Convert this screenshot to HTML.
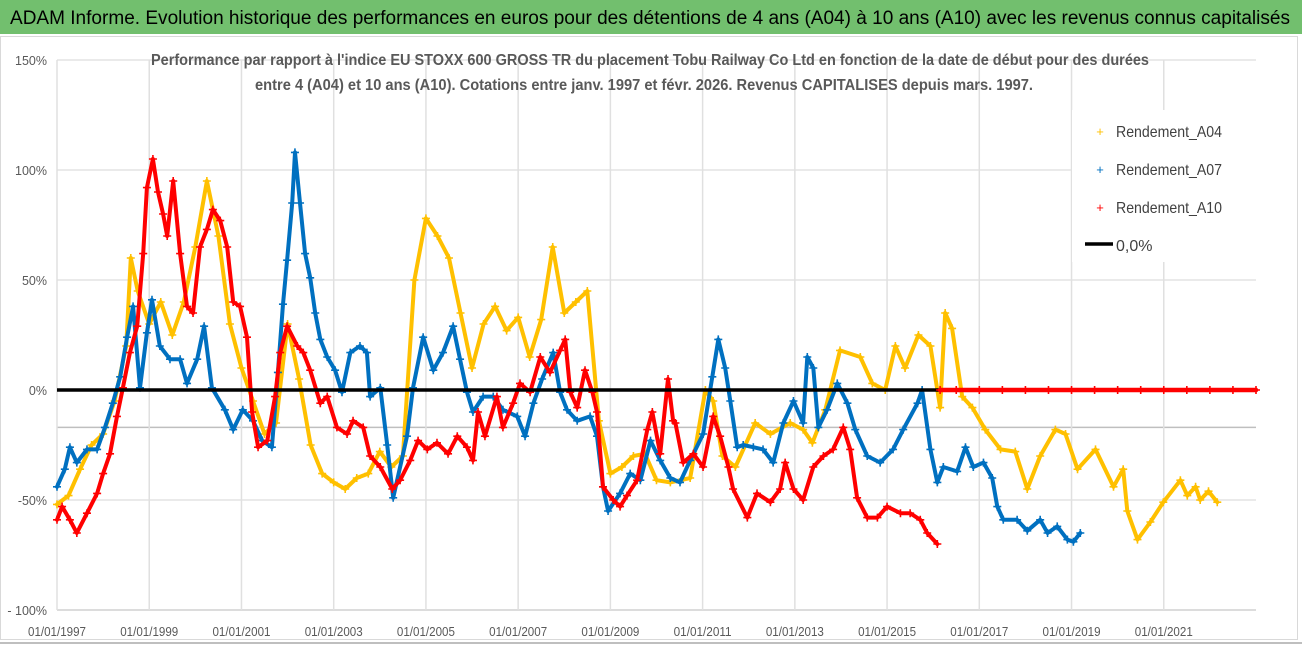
<!DOCTYPE html>
<html><head><meta charset="utf-8"><style>
html,body{margin:0;padding:0;background:#fff;}
svg{display:block;font-family:"Liberation Sans Narrow","Liberation Sans",sans-serif;}
</style></head><body>
<svg id="chart" width="1302" height="647" viewBox="0 0 1302 647">
<rect x="0" y="0" width="1302" height="34" fill="#72bf6e"/>
<text x="10" y="24" font-size="19" fill="#000" textLength="1280" lengthAdjust="spacingAndGlyphs">ADAM Informe. Evolution historique des performances en euros pour des détentions de 4 ans (A04) à 10 ans (A10) avec les revenus connus capitalisés</text>
<rect x="0.5" y="36.5" width="1297" height="603" fill="none" stroke="#d9d9d9"/>
<line x1="0" y1="643" x2="1302" y2="643" stroke="#bfbfbf" stroke-width="2"/>
<g id="grid"></g>
<g id="series"></g>
<g id="axes"></g>
<text x="650" y="65" text-anchor="middle" font-size="15.5" font-weight="bold" fill="#595959" textLength="998" lengthAdjust="spacingAndGlyphs">Performance par rapport à l'indice EU STOXX 600 GROSS TR  du placement Tobu Railway Co Ltd en fonction de la date de début pour des durées</text>
<text x="644" y="90" text-anchor="middle" font-size="15.5" font-weight="bold" fill="#595959" textLength="778" lengthAdjust="spacingAndGlyphs">entre 4 (A04) et 10 ans (A10). Cotations entre janv. 1997 et févr. 2026. Revenus CAPITALISES depuis mars. 1997.</text>
<g>
<rect x="1072" y="110" width="190" height="152" fill="#fff"/>
<g><text x="1100" y="136" font-size="13" fill="#FFC000" text-anchor="middle">+</text><text x="1116" y="137" font-size="16" fill="#404040" textLength="106" lengthAdjust="spacingAndGlyphs">Rendement_A04</text></g>
<g><text x="1100" y="174" font-size="13" fill="#0070C0" text-anchor="middle">+</text><text x="1116" y="175" font-size="16" fill="#404040" textLength="106" lengthAdjust="spacingAndGlyphs">Rendement_A07</text></g>
<g><text x="1100" y="212" font-size="13" fill="#FF0000" text-anchor="middle">+</text><text x="1116" y="213" font-size="16" fill="#404040" textLength="106" lengthAdjust="spacingAndGlyphs">Rendement_A10</text></g>
<g><line x1="1085" y1="244" x2="1113" y2="244" stroke="#000" stroke-width="3.5"/><text x="1116" y="251" font-size="16" fill="#404040">0,0%</text></g>
</g>
</svg>
<script>
// time values: years elapsed since 01/01/1997
const xTickLabels = ["01/01/1997","01/01/1999","01/01/2001","01/01/2003","01/01/2005","01/01/2007","01/01/2009","01/01/2011","01/01/2013","01/01/2015","01/01/2017","01/01/2019","01/01/2021"];
const xTickT = [0,2,4,6,8,10,12,14,16,18,20,22,24];
const yTicks = [150,100,50,0,-50,-100];
const yTickLabels = ["150%","100%","50%","0%","-50%","- 100%"];
const refLineValue = -17;
const zeroLineEndT = 19.15;

const a04T = [0,0.25,0.5,0.75,1,1.25,1.5,1.6,1.75,2,2.25,2.5,2.75,3,3.25,3.5,3.75,4,4.25,4.5,4.75,5,5.25,5.5,5.75,6,6.25,6.5,6.75,7,7.25,7.5,7.75,8,8.25,8.5,8.75,9,9.25,9.5,9.75,10,10.25,10.5,10.75,11,11.25,11.5,11.75,12,12.25,12.5,12.75,13,13.3,13.73,14.06,14.23,14.43,14.71,15.14,15.47,15.9,16.18,16.38,16.66,16.98,17.42,17.68,17.96,18.18,18.39,18.68,18.94,19.15,19.26,19.41,19.63,19.85,20.13,20.46,20.78,21.04,21.32,21.65,21.87,22.13,22.52,22.91,23.12,23.21,23.43,23.71,23.99,24.36,24.51,24.69,24.79,24.97,25.16];
const a04V = [-52,-48,-36,-25,-20,-5,20,60,45,30,40,25,40,65,95,70,30,10,-5,-20,-15,30,5,-25,-38,-42,-45,-40,-38,-28,-35,-30,50,78,70,60,35,10,30,38,27,33,15,32,65,35,40,45,-14,-38,-35,-30,-29,-41,-42,-40,0,-5,-30,-35,-15,-20,-15,-18,-24,-9,18,15,3,0,20,10,25,20,-8,35,28,-3,-8,-18,-27,-28,-45,-30,-18,-20,-36,-27,-44,-36,-55,-68,-60,-51,-41,-48,-44,-50,-46,-51];

const a07T = [0,0.17,0.28,0.43,0.65,0.87,1.04,1.21,1.37,1.52,1.65,1.8,1.95,2.06,2.23,2.45,2.67,2.82,3.04,3.19,3.36,3.64,3.82,4.03,4.25,4.45,4.66,4.79,4.9,4.99,5.1,5.16,5.27,5.38,5.49,5.6,5.71,5.86,6.03,6.18,6.36,6.57,6.72,6.79,7.01,7.16,7.29,7.59,7.72,7.94,8.16,8.37,8.59,8.74,8.89,9.02,9.24,9.46,9.67,9.98,10.15,10.33,10.52,10.76,10.91,11.06,11.28,11.56,11.71,11.84,11.95,12.21,12.43,12.65,12.87,13.08,13.3,13.51,13.73,14.01,14.21,14.34,14.49,14.6,14.75,14.88,15.1,15.31,15.53,15.75,15.97,16.18,16.27,16.4,16.51,16.7,16.92,17.14,17.31,17.57,17.85,18.13,18.35,18.66,18.76,18.94,19.09,19.22,19.52,19.7,19.87,20.09,20.28,20.39,20.52,20.82,21.04,21.32,21.48,21.69,21.91,22.04,22.19];
const a07V = [-44,-36,-26,-33,-27,-27,-17,-6,6,24,38,1,26,41,20,14,14,3,14,29,1,-9,-18,-9,-14,-23,-26,8,39,59,85,108,85,62,51,35,23,15,9,-1,17,20,17,-3,1,-25,-49,-21,1,24,9,17,29,14,-1,-10,-3,-3,-9,-12,-21,-6,5,17,-1,-9,-14,-12,-21,-44,-55,-47,-38,-41,-23,-32,-40,-42,-32,-20,6,23,10,-5,-26,-25,-26,-27,-33,-15,-5,-15,15,10,-17,-9,3,-6,-18,-30,-33,-27,-18,-6,0,-27,-42,-35,-37,-26,-35,-33,-40,-53,-59,-59,-64,-59,-65,-62,-68,-69,-65];

const a10T = [0,0.11,0.28,0.43,0.65,0.87,1,1.15,1.3,1.43,1.58,1.74,1.87,1.95,2.08,2.19,2.3,2.39,2.52,2.67,2.82,2.95,3.1,3.25,3.38,3.54,3.69,3.82,3.97,4.12,4.23,4.36,4.56,4.73,4.84,4.99,5.21,5.34,5.49,5.71,5.86,6.07,6.29,6.42,6.64,6.79,7.01,7.27,7.44,7.66,7.83,8.03,8.24,8.48,8.68,8.89,9.02,9.13,9.28,9.54,9.67,9.89,10.04,10.26,10.48,10.69,10.91,11.02,11.13,11.28,11.45,11.61,11.71,11.84,12.06,12.21,12.36,12.58,12.8,12.91,13.08,13.25,13.36,13.41,13.58,13.8,14.01,14.23,14.38,14.56,14.66,14.97,15.18,15.47,15.68,15.79,15.97,16.18,16.4,16.62,16.83,17.05,17.2,17.35,17.57,17.79,18,18.29,18.5,18.72,18.87,19.09];
const a10V = [-59,-53,-59,-65,-56,-47,-38,-29,-12,1,17,29,62,92,105,90,80,70,95,62,38,35,65,73,82,77,65,40,38,24,-10,-26,-23,-3,17,29,20,17,9,-6,-3,-17,-20,-14,-17,-30,-35,-45,-41,-32,-23,-27,-24,-29,-21,-26,-32,-10,-21,-3,-17,-6,3,-1,15,8,18,23,-1,-8,9,-1,-10,-44,-50,-53,-48,-41,-18,-10,-29,5,-14,-15,-33,-29,-35,-12,-21,-35,-45,-58,-47,-51,-45,-33,-45,-50,-35,-30,-27,-17,-27,-49,-58,-58,-53,-56,-56,-59,-65,-70];
const a10TailT = [19.15,19.5,20,20.5,21,21.5,22,22.5,23,23.5,24,24.5,25,25.5,26];
const a10TailV = [0,0,0,0,0,0,0,0,0,0,0,0,0,0,0];

const NS = "http://www.w3.org/2000/svg";
const X0 = 57, X1 = 1256, T1 = 26;
const Y0 = 390, PX_PER_PCT = 2.2;
function xS(t){ return X0 + t * (X1 - X0) / T1; }
function yS(v){ return Y0 - v * PX_PER_PCT; }
function mk(tag, attrs, parent){ const e = document.createElementNS(NS, tag); for (const k in attrs) e.setAttribute(k, attrs[k]); parent.appendChild(e); return e; }

const grid = document.getElementById('grid');
const axes = document.getElementById('axes');
const series = document.getElementById('series');

yTicks.forEach((v, i) => {
  if (v !== 0) {
    const g = mk('line', {x1: X0, x2: X1, y1: yS(v), y2: yS(v), stroke: v === -100 ? '#d0d0d0' : '#e3e3e3', 'stroke-width': 1.5}, grid);
    
    
  }
  const t = mk('text', {x: 47, y: yS(v) + 5, 'text-anchor': 'end', 'font-size': 12.5, fill: '#595959'}, axes);
  t.textContent = yTickLabels[i];
  
  
});
const ref = mk('line', {x1: X0, x2: X1, y1: yS(refLineValue), y2: yS(refLineValue), stroke: '#bfbfbf', 'stroke-width': 1.5}, grid);


xTickT.forEach((t, i) => {
  const g = mk('line', {x1: xS(t), x2: xS(t), y1: yS(150), y2: yS(-100), stroke: '#e0e0e0', 'stroke-width': 1.5}, grid);
  
  
  const l = mk('text', {x: xS(t), y: 636, 'text-anchor': 'middle', 'font-size': 12.5, fill: '#595959', textLength: 58, lengthAdjust: 'spacingAndGlyphs'}, axes);
  l.textContent = xTickLabels[i];
  
  
});

function drawSeries(T, V, color, name, width){
  const g = mk('g', {}, series);
  
  
  const pts = T.map((t, i) => xS(t).toFixed(1) + ',' + yS(V[i]).toFixed(1)).join(' ');
  const pl = mk('polyline', {points: pts, fill: 'none', stroke: color, 'stroke-width': width, 'stroke-linejoin': 'round', 'stroke-linecap': 'round'}, g);
  
  
  T.forEach((t, i) => {
    const x = xS(t), y = yS(V[i]);
    const p = mk('path', {d: `M${x-4},${y}H${x+4}M${x},${y-4}V${y+4}`, stroke: color, 'stroke-width': 1.6}, g);
    
    
  });
}
drawSeries(a04T, a04V, '#FFC000', 'series-a04', 4);
drawSeries(a07T, a07V, '#0070C0', 'series-a07', 4);
drawSeries(a10T, a10V, '#FF0000', 'series-a10', 4);

const zl = mk('line', {x1: xS(0), x2: xS(zeroLineEndT), y1: yS(0), y2: yS(0), stroke: '#000', 'stroke-width': 3.5}, series);


drawSeries(a10TailT.filter(t => t <= T1), a10TailV.filter((v, i) => a10TailT[i] <= T1), '#FF0000', 'series-a10-tail', 4.5);
</script>
</body></html>
